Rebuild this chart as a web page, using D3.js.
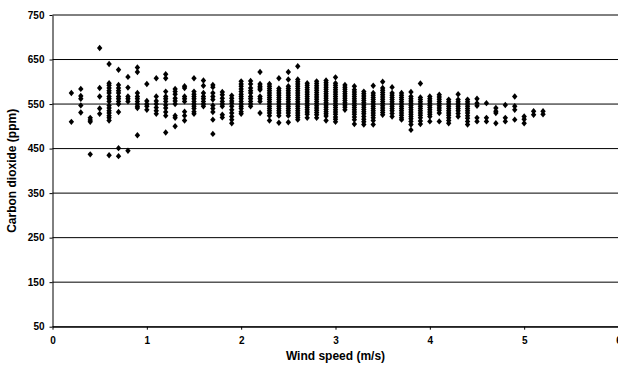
<!DOCTYPE html>
<html>
<head>
<meta charset="utf-8">
<script src="https://cdn.jsdelivr.net/npm/d3@7"></script>
<style>
  html, body { margin: 0; padding: 0; background: #fff; }
  svg { display: block; font-family: "Liberation Sans", Arial, sans-serif; }
</style>
</head>
<body>
<svg id="chart" width="618" height="367"></svg>
<script>
// wind speed columns (m/s), logged at 0.1 m/s resolution
const windSpeed = [
  0.2, 0.3, 0.4, 0.5, 0.6, 0.7, 0.8, 0.9, 1.0, 1.1,
  1.2, 1.3, 1.4, 1.5, 1.6, 1.7, 1.8, 1.9, 2.0, 2.1,
  2.2, 2.3, 2.4, 2.5, 2.6, 2.7, 2.8, 2.9, 3.0, 3.1,
  3.2, 3.3, 3.4, 3.5, 3.6, 3.7, 3.8, 3.9, 4.0, 4.1,
  4.2, 4.3, 4.4, 4.5, 4.6, 4.7, 4.8, 4.9, 5.0, 5.1, 5.2
];

// CO2 readings (ppm) for each wind speed column above
const co2 = [
  [575, 510],
  [584, 568, 562, 547, 531],
  [519, 514, 510, 437],
  [676, 586, 567, 540, 528],
  [640, 597, 592, 586, 580, 575, 567, 562, 556, 547, 541, 535, 530, 524, 519, 513, 435],
  [627, 593, 586, 580, 575, 567, 562, 556, 550, 532, 451, 433],
  [611, 587, 567, 562, 556, 445],
  [632, 622, 575, 567, 562, 556, 550, 545, 541, 480],
  [595, 557, 550, 545, 537],
  [608, 567, 557, 550, 542, 535, 528],
  [617, 608, 578, 567, 562, 556, 548, 541, 532, 524, 486],
  [584, 578, 572, 563, 557, 550, 524, 519, 500],
  [590, 586, 567, 562, 556, 533, 524, 513],
  [608, 578, 572, 567, 562, 556, 550, 545, 540, 533, 528],
  [603, 591, 575, 567, 562, 556, 550, 545],
  [593, 588, 575, 567, 560, 547, 540, 532, 515, 483],
  [577, 571, 563, 556, 550, 545, 526, 520],
  [569, 563, 557, 552, 545, 537, 530, 522, 515, 507],
  [601, 595, 590, 584, 578, 572, 567, 562, 556, 550, 545, 540, 533, 528],
  [602, 595, 586, 580, 575, 567, 562, 556, 550, 545],
  [622, 595, 590, 586, 582, 567, 562, 556, 530],
  [595, 590, 585, 580, 575, 570, 565, 560, 555, 550, 545, 540, 535, 530, 524, 513],
  [608, 585, 580, 575, 570, 565, 560, 555, 550, 545, 540, 535, 530, 524, 508],
  [622, 605, 590, 585, 580, 575, 570, 565, 560, 555, 550, 545, 540, 535, 530, 524, 509],
  [635, 605, 600, 595, 590, 585, 580, 575, 570, 565, 560, 555, 550, 545, 540, 535, 530, 525, 520, 515],
  [597, 592, 587, 582, 577, 572, 567, 562, 557, 552, 547, 542, 537, 532, 527, 519],
  [601, 596, 591, 586, 581, 576, 571, 566, 561, 556, 551, 546, 541, 536, 531, 526, 519],
  [603, 598, 593, 588, 583, 578, 573, 568, 563, 558, 553, 548, 543, 538, 533, 528, 523, 513],
  [610, 597, 592, 587, 582, 577, 572, 567, 562, 557, 552, 547, 542, 537, 532, 527, 521, 516, 510],
  [593, 588, 583, 578, 573, 568, 563, 558, 553, 548, 543, 537],
  [590, 582, 577, 572, 567, 562, 557, 552, 547, 542, 537, 532, 527, 521, 515, 505],
  [578, 573, 568, 563, 558, 553, 548, 543, 538, 533, 528, 522, 516, 510, 504],
  [591, 575, 570, 565, 560, 555, 550, 545, 540, 535, 530, 525, 519, 513, 504],
  [600, 586, 581, 576, 571, 566, 561, 556, 551, 546, 541, 536, 531, 526],
  [588, 575, 570, 565, 560, 555, 550, 545, 540, 535, 529, 522],
  [575, 570, 565, 560, 555, 550, 545, 540, 535, 530, 525, 519, 515],
  [577, 567, 562, 557, 552, 547, 542, 537, 532, 527, 522, 517, 511, 504, 492],
  [596, 565, 560, 555, 550, 545, 540, 535, 530, 525, 519, 512, 505],
  [567, 562, 557, 552, 547, 542, 537, 532, 527, 522, 511],
  [571, 566, 561, 556, 551, 546, 541, 536, 530, 511],
  [560, 555, 550, 545, 540, 535, 530, 525, 519, 513, 507],
  [572, 560, 555, 550, 545, 540, 535, 529, 522],
  [560, 555, 550, 545, 540, 535, 530, 524, 518, 511, 504],
  [562, 552, 546, 519, 511],
  [552, 519, 511],
  [541, 534, 530, 507],
  [548, 519, 511],
  [567, 545, 537, 515],
  [522, 516, 507],
  [534, 526],
  [534, 527]
];

const xTicks = [0, 1, 2, 3, 4, 5, 6];
const yTicks = [50, 150, 250, 350, 450, 550, 650, 750];

const svg = d3.select("#chart");

const x = d3.scaleLinear().domain([0, 6]).range([52.5, 618.5]);
const y = d3.scaleLinear().domain([50, 750]).range([326.7, 15]);

// horizontal gridlines
svg.append("g")
  .selectAll("line")
  .data(yTicks)
  .join("line")
  .attr("x1", x(0))
  .attr("x2", x(6))
  .attr("y1", d => y(d))
  .attr("y2", d => y(d))
  .attr("stroke", "#000")
  .attr("stroke-width", 1);

// y axis
const yAxis = svg.append("g")
  .attr("transform", `translate(${x(0)},0)`)
  .call(d3.axisLeft(y).tickValues(yTicks).tickFormat(d3.format("d"))
    .tickSizeInner(3).tickSizeOuter(0).tickPadding(5));

// x axis
const xAxis = svg.append("g")
  .attr("transform", `translate(0,${y(50)})`)
  .call(d3.axisBottom(x).tickValues(xTicks).tickFormat(d3.format("d"))
    .tickSizeInner(3).tickSizeOuter(0).tickPadding(7));

[yAxis, xAxis].forEach(g => {
  g.select(".domain").attr("stroke", "#000");
  g.selectAll(".tick line").attr("stroke", "#000");
  g.selectAll(".tick text")
    .attr("fill", "#000")
    .style("font-family", "'Liberation Sans', Arial, sans-serif")
    .style("font-size", "10px")
    .style("font-weight", "bold");
});

// points
const points = windSpeed.flatMap((w, i) => co2[i].map(c => ({ w, c })));

svg.append("g")
  .selectAll("path")
  .data(points)
  .join("path")
  .attr("transform", d => `translate(${x(d.w)},${y(d.c)})`)
  .attr("d", "M0,-3.2L2.7,0L0,3.2L-2.7,0Z")
  .attr("fill", "#000");

// axis titles
svg.append("text")
  .attr("x", (x(0) + x(6)) / 2)
  .attr("y", 360)
  .attr("text-anchor", "middle")
  .style("font-size", "12px")
  .style("font-weight", "bold")
  .text("Wind speed (m/s)");

svg.append("text")
  .attr("transform", `translate(16,${(y(50) + y(750)) / 2}) rotate(-90)`)
  .attr("text-anchor", "middle")
  .style("font-size", "12px")
  .style("font-weight", "bold")
  .text("Carbon dioxide (ppm)");
</script>
</body>
</html>
